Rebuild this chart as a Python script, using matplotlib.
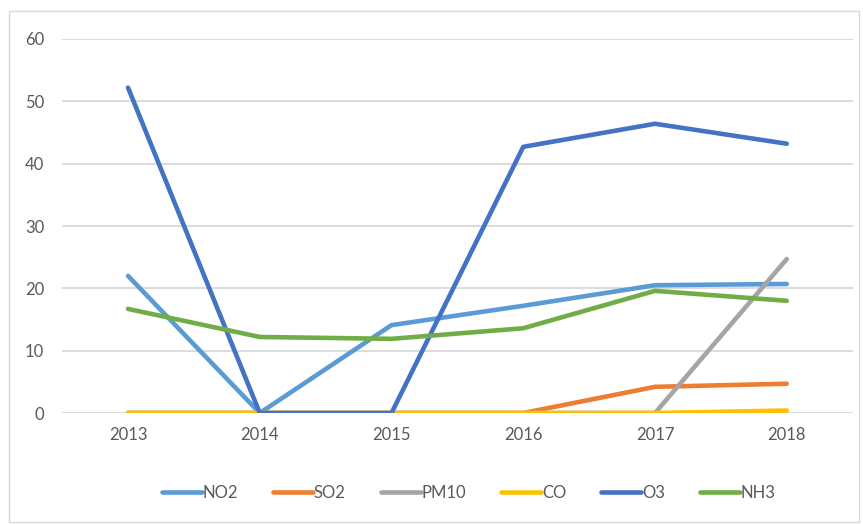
import matplotlib.pyplot as plt
from matplotlib.patches import Rectangle

years = ['2013', '2014', '2015', '2016', '2017', '2018']
no2 = [22.0, 0, 14.1, 17.2, 20.5, 20.7]
so2 = [0, 0, 0, 0, 4.2, 4.7]
pm10 = [0, 0, 0, 0, 0, 24.7]
co = [0, 0, 0, 0, 0, 0.4]
o3 = [52.2, 0, 0, 42.7, 46.4, 43.2]
nh3 = [16.7, 12.2, 11.9, 13.6, 19.6, 18.0]

series = [('NO2', no2, '#5B9BD5'), ('SO2', so2, '#ED7D31'),
          ('PM10', pm10, '#A5A5A5'), ('CO', co, '#FFC000'),
          ('O3', o3, '#4472C4'), ('NH3', nh3, '#70AD47')]

plt.rcParams['font.family'] = ['Lato', 'DejaVu Sans']

fig = plt.figure(figsize=(8.63, 5.24), dpi=100)
ax = fig.add_axes([0.072, 0.2118, 0.916, 0.7138])

# light frame around the whole chart
fig.patches.append(Rectangle((0.010, 0.004), 0.985, 0.975, transform=fig.transFigure,
                             fill=False, edgecolor='#d9d9d9', linewidth=1))

x = range(len(years))
for name, vals, color in series:
    ax.plot(x, vals, color=color, linewidth=3.3, label=name, solid_capstyle='round')

ax.set_xlim(-0.5, 5.5)
ax.set_ylim(0, 60)
ax.set_yticks(range(0, 61, 10))
ax.set_xticks(list(x))
ax.set_xticklabels(years)
ax.grid(axis='y', color='#d9d9d9', linewidth=1.3)
ax.set_axisbelow(True)
for s in ax.spines.values():
    s.set_visible(False)
ax.tick_params(length=0, labelsize=12, labelcolor='#595959')
ax.tick_params(axis='y', pad=13)
ax.tick_params(axis='x', pad=10)

leg = fig.legend(loc='center', bbox_to_anchor=(0.543, 0.06), ncol=6, frameon=False,
                 fontsize=12, handlelength=2.4, handletextpad=0.05, columnspacing=2.1)
for t in leg.get_texts():
    t.set_color('#595959')

fig.savefig('out.png', dpi=100)
